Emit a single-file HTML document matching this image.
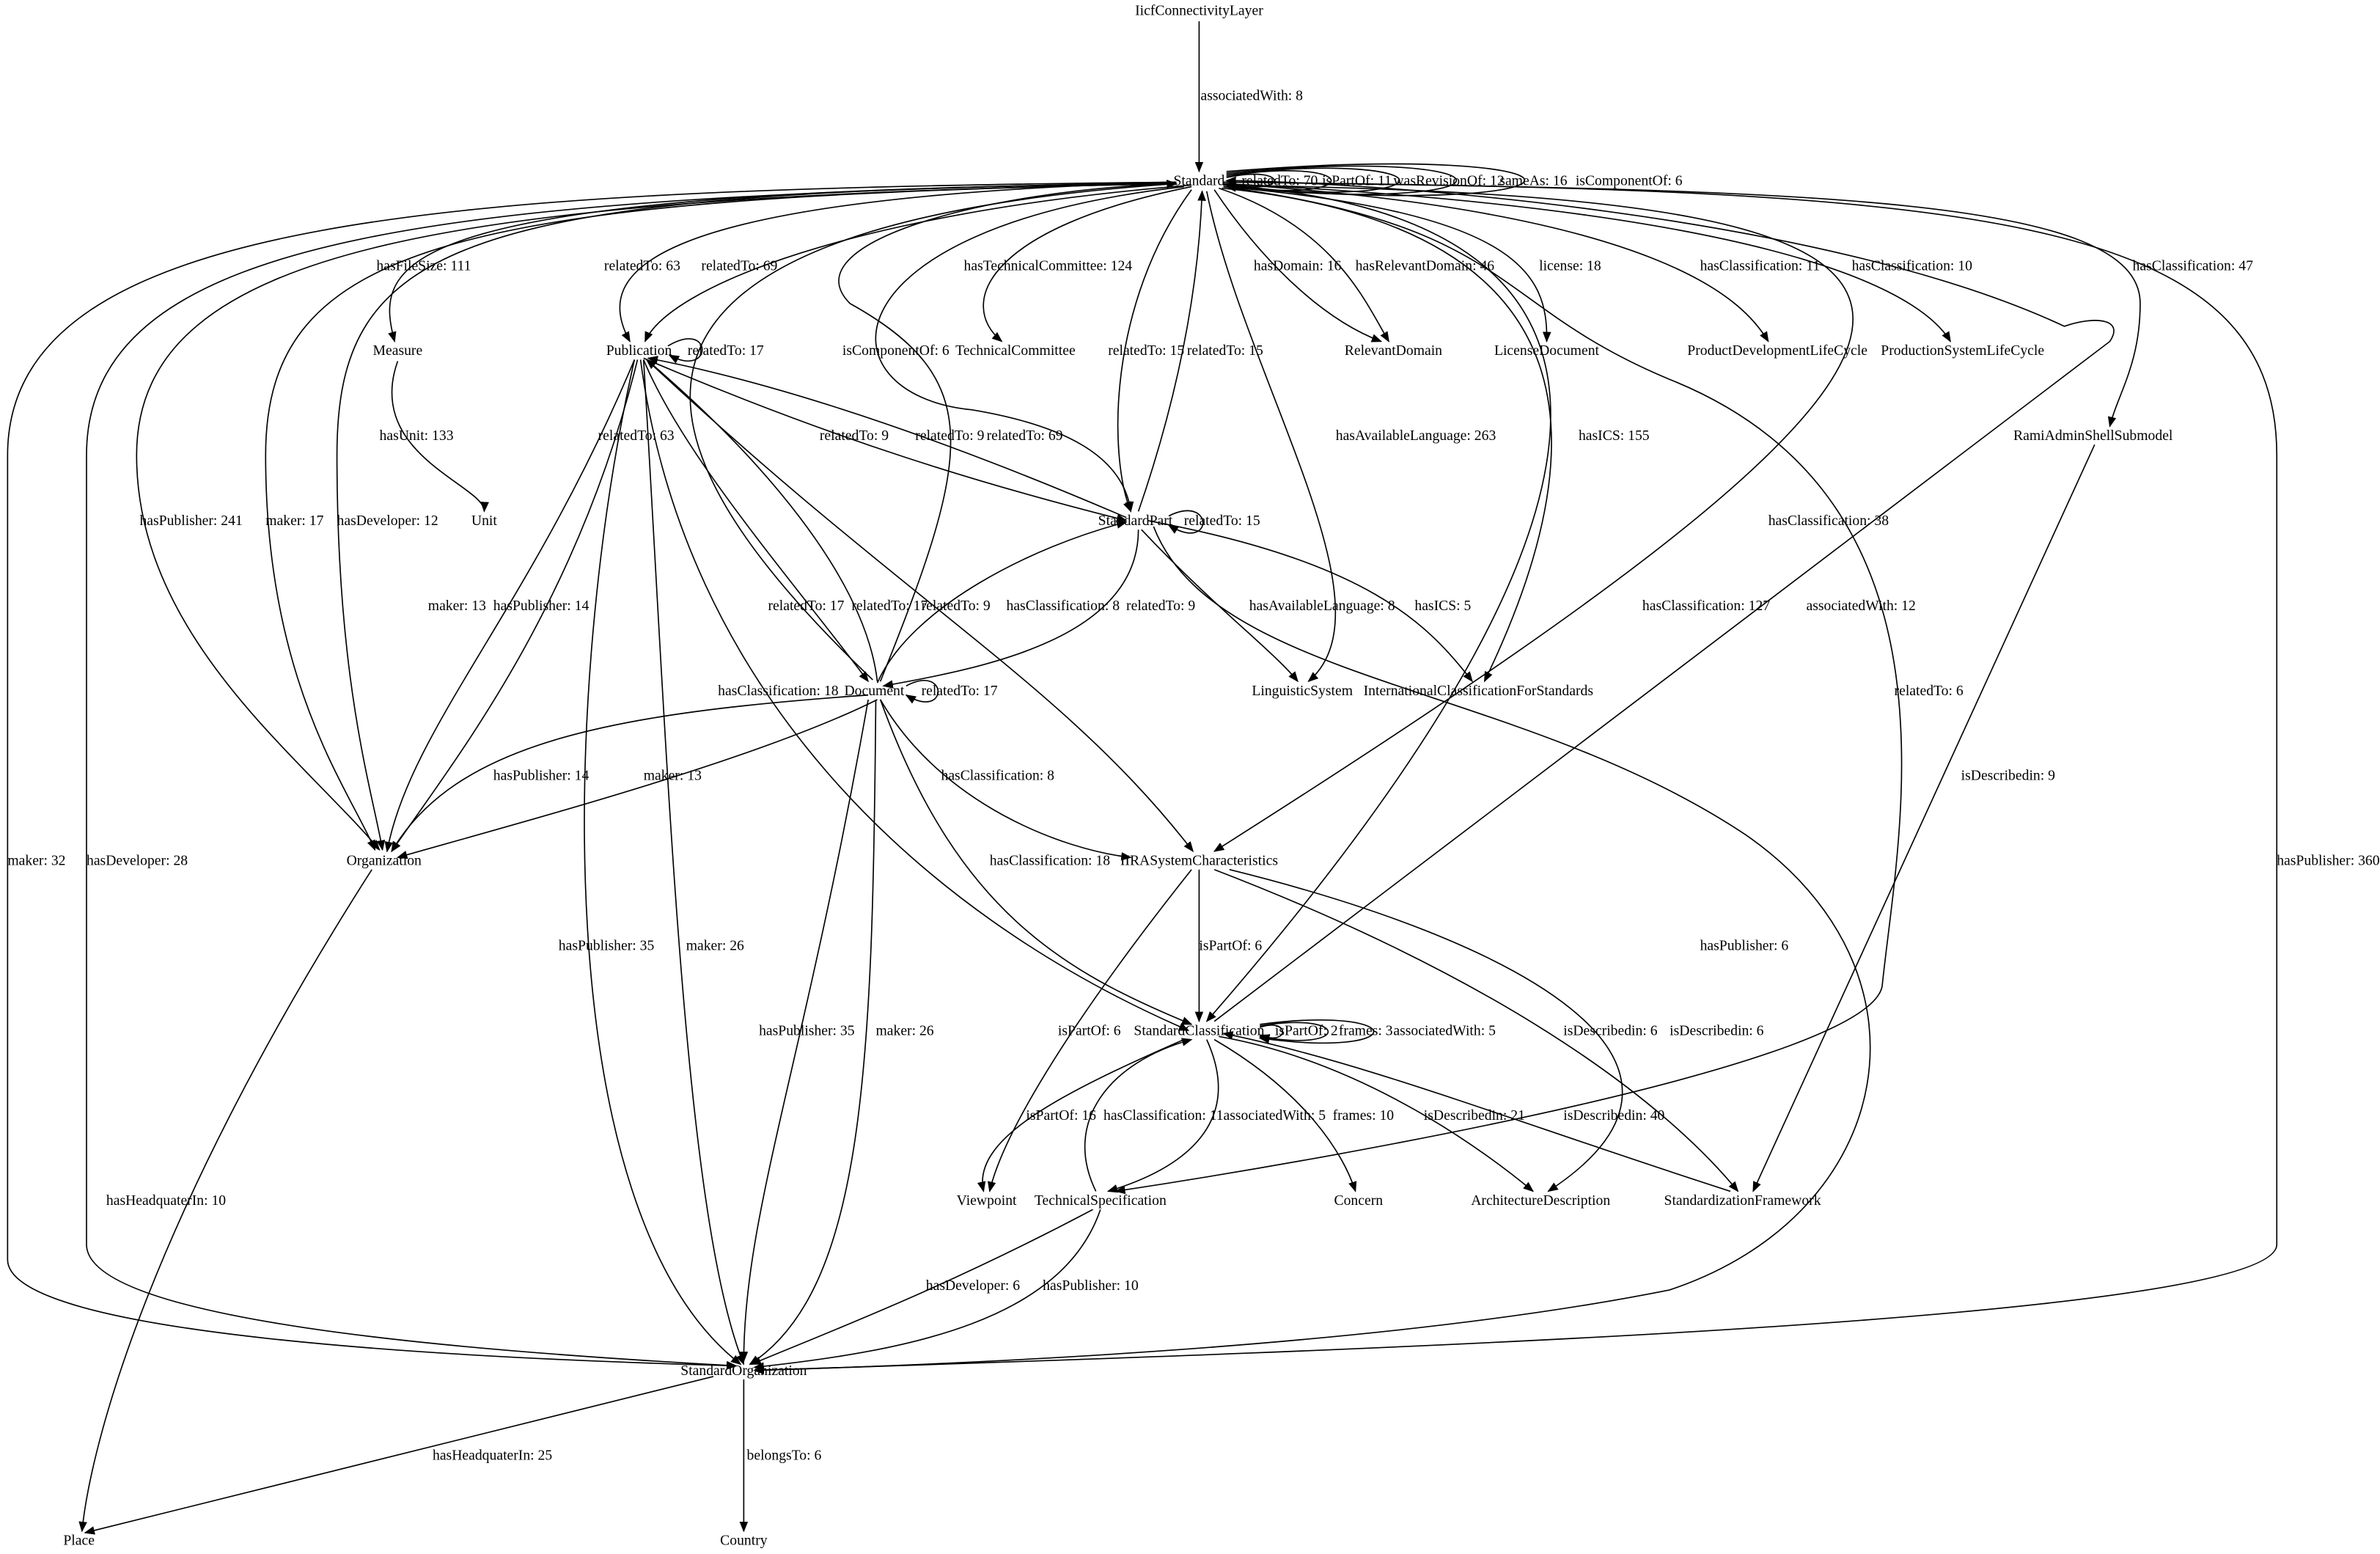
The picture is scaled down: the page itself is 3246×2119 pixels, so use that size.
<!DOCTYPE html>
<html><head><meta charset="utf-8"><style>
html,body{margin:0;padding:0;background:#fff;}
svg{display:block;}
text{font-family:"Liberation Serif",serif;font-size:9.5px;fill:#000;}
.n{text-anchor:middle;}
path{fill:none;stroke:#000;stroke-width:0.8;}
</style></head><body>
<svg width="3246" height="2119" viewBox="0 0 1568 1024" preserveAspectRatio="none" xmlns="http://www.w3.org/2000/svg">
<defs><marker id="a" viewBox="0 0 10 10" refX="9" refY="5" markerWidth="7" markerHeight="7" orient="auto" markerUnits="userSpaceOnUse"><path d="M0,1 L10,5 L0,9 z" style="fill:#000;stroke:none"/></marker></defs>
<g marker-end="url(#a)">
<path d="M790,14 L790,113"/>
<path d="M808,117 C850,108 850,130 808,121"/>
<path d="M808,116 C900,102 900,136 808,122"/>
<path d="M808,115 C960,98 960,140 808,122"/>
<path d="M808,114 C1010,95 1010,143 808,123"/>
<path d="M808,113 C1070,92 1070,146 808,123"/>
<path d="M775,121 C300,130 90,160 90,300 C90,420 200,500 250,560"/>
<path d="M775,121 C300,130 175,160 175,300 C175,450 230,520 247,560"/>
<path d="M775,121 C300,125 222,160 222,300 C222,450 245,520 252,560"/>
<path d="M775,120 C300,125 5,140 5,300 L5,830 C5,880 300,895 485,900"/>
<path d="M775,120 C300,130 57,150 57,300 L57,820 C57,870 300,890 485,900"/>
<path d="M806,120 C1300,125 1500,140 1500,300 L1500,820 C1500,870 900,890 497,903"/>
<path d="M775,121 C260,125 245,170 260,225"/>
<path d="M262,238 C240,300 320,320 319,337"/>
<path d="M775,120 C420,130 390,180 415,225"/>
<path d="M785,122 C560,140 440,190 425,225"/>
<path d="M440,228 C470,210 470,250 441,234"/>
<path d="M785,123 C650,150 630,200 660,225"/>
<path d="M780,123 C540,150 540,260 640,270 C700,280 740,300 745,337"/>
<path d="M575,448 C420,300 350,150 775,121"/>
<path d="M785,125 C730,200 730,300 745,337"/>
<path d="M750,337 C780,250 790,180 792,126"/>
<path d="M800,125 C830,170 870,210 910,225"/>
<path d="M803,124 C880,150 900,200 915,225"/>
<path d="M806,123 C1000,140 1020,180 1019,225"/>
<path d="M806,121 C1100,140 1150,200 1165,225"/>
<path d="M806,121 C1200,140 1270,200 1285,225"/>
<path d="M806,120 C1200,125 1410,130 1410,200 C1410,240 1395,260 1390,281"/>
<path d="M795,126 C820,250 920,400 862,449"/>
<path d="M805,124 C1060,150 1050,300 978,449"/>
<path d="M806,122 C1070,140 1120,300 795,673"/>
<path d="M806,122 C1350,130 1370,200 800,561"/>
<path d="M800,673 L1390,225 C1400,210 1380,208 1360,215 C1200,140 900,120 808,119"/>
<path d="M806,123 C1000,150 980,200 1100,250 C1300,330 1250,550 1240,650 C1230,700 900,760 735,785"/>
<path d="M760,347 C800,450 1000,450 1150,550 C1280,640 1250,800 1100,850 C900,890 600,900 497,903"/>
<path d="M1380,293 L1155,785"/>
<path d="M424,236 C550,290 650,320 742,343"/>
<path d="M742,341 C600,280 500,250 427,236"/>
<path d="M580,449 C640,300 650,250 560,200 C520,160 650,125 775,121"/>
<path d="M418,237 C350,400 270,480 255,561"/>
<path d="M420,237 C380,400 300,500 258,561"/>
<path d="M424,237 C450,300 520,380 572,449"/>
<path d="M578,449 C570,380 500,300 426,237"/>
<path d="M426,237 C600,400 700,450 786,561"/>
<path d="M422,237 C450,450 600,600 783,679"/>
<path d="M418,237 C370,450 360,800 488,899"/>
<path d="M424,237 C440,500 450,800 490,899"/>
<path d="M770,340 C800,325 800,365 770,346"/>
<path d="M750,349 C750,420 650,440 582,452"/>
<path d="M578,450 C600,400 680,360 742,344"/>
<path d="M752,349 C800,400 840,430 855,449"/>
<path d="M756,343 C900,370 940,410 970,449"/>
<path d="M597,452 C625,437 625,475 597,458"/>
<path d="M572,458 C400,470 300,490 258,561"/>
<path d="M578,461 C500,500 350,540 262,565"/>
<path d="M580,461 C620,530 700,560 745,565"/>
<path d="M580,461 C630,600 700,640 785,675"/>
<path d="M572,461 C530,700 490,800 490,897"/>
<path d="M577,461 C575,700 570,850 494,899"/>
<path d="M245,573 C100,800 60,950 54,1009"/>
<path d="M790,573 L790,673"/>
<path d="M785,573 C700,680 660,750 652,785"/>
<path d="M800,573 C1000,650 1100,730 1145,785"/>
<path d="M810,573 C1000,620 1150,700 1020,785"/>
<path d="M830,677 C850,670 850,690 830,682"/>
<path d="M830,676 C890,666 890,694 830,683"/>
<path d="M830,675 C930,662 930,698 830,684"/>
<path d="M780,685 C700,720 640,750 648,785"/>
<path d="M722,785 C700,740 730,700 785,685"/>
<path d="M795,685 C820,740 780,770 730,785"/>
<path d="M800,685 C860,720 885,760 893,785"/>
<path d="M803,683 C900,700 980,760 1010,785"/>
<path d="M1140,785 C1000,740 900,700 806,681"/>
<path d="M720,797 C620,850 540,880 495,899"/>
<path d="M725,797 C700,870 600,890 497,901"/>
<path d="M470,907 L56,1010"/>
<path d="M490,909 L490,1009"/>
</g>
<g>
<text x="791" y="66">associatedWith: 8</text>
<text x="818" y="122">relatedTo: 70</text>
<text x="871" y="122">isPartOf: 11</text>
<text x="918" y="122">wasRevisionOf: 12</text>
<text x="988" y="122">sameAs: 16</text>
<text x="1038" y="122">isComponentOf: 6</text>
<text x="92" y="346">hasPublisher: 241</text>
<text x="175" y="346">maker: 17</text>
<text x="222" y="346">hasDeveloper: 12</text>
<text x="5" y="570">maker: 32</text>
<text x="57" y="570">hasDeveloper: 28</text>
<text x="1500" y="570">hasPublisher: 360</text>
<text x="248" y="178">hasFileSize: 111</text>
<text x="250" y="290">hasUnit: 133</text>
<text x="398" y="178">relatedTo: 63</text>
<text x="462" y="178">relatedTo: 69</text>
<text x="453" y="234">relatedTo: 17</text>
<text x="635" y="178">hasTechnicalCommittee: 124</text>
<text x="555" y="234">isComponentOf: 6</text>
<text x="394" y="290">relatedTo: 63</text>
<text x="730" y="234">relatedTo: 15</text>
<text x="782" y="234">relatedTo: 15</text>
<text x="826" y="178">hasDomain: 16</text>
<text x="893" y="178">hasRelevantDomain: 46</text>
<text x="1014" y="178">license: 18</text>
<text x="1120" y="178">hasClassification: 11</text>
<text x="1220" y="178">hasClassification: 10</text>
<text x="1405" y="178">hasClassification: 47</text>
<text x="880" y="290">hasAvailableLanguage: 263</text>
<text x="1040" y="290">hasICS: 155</text>
<text x="1082" y="402">hasClassification: 127</text>
<text x="1165" y="346">hasClassification: 38</text>
<text x="1190" y="402">associatedWith: 12</text>
<text x="1248" y="458">relatedTo: 6</text>
<text x="1120" y="626">hasPublisher: 6</text>
<text x="1292" y="514">isDescribedin: 9</text>
<text x="540" y="290">relatedTo: 9</text>
<text x="603" y="290">relatedTo: 9</text>
<text x="650" y="290">relatedTo: 69</text>
<text x="282" y="402">maker: 13</text>
<text x="325" y="402">hasPublisher: 14</text>
<text x="506" y="402">relatedTo: 17</text>
<text x="561" y="402">relatedTo: 17</text>
<text x="663" y="402">hasClassification: 8</text>
<text x="473" y="458">hasClassification: 18</text>
<text x="368" y="626">hasPublisher: 35</text>
<text x="452" y="626">maker: 26</text>
<text x="780" y="346">relatedTo: 15</text>
<text x="742" y="402">relatedTo: 9</text>
<text x="607" y="402">relatedTo: 9</text>
<text x="823" y="402">hasAvailableLanguage: 8</text>
<text x="932" y="402">hasICS: 5</text>
<text x="607" y="458">relatedTo: 17</text>
<text x="325" y="514">hasPublisher: 14</text>
<text x="424" y="514">maker: 13</text>
<text x="620" y="514">hasClassification: 8</text>
<text x="652" y="570">hasClassification: 18</text>
<text x="500" y="682">hasPublisher: 35</text>
<text x="577" y="682">maker: 26</text>
<text x="70" y="794">hasHeadquaterIn: 10</text>
<text x="790" y="626">isPartOf: 6</text>
<text x="697" y="682">isPartOf: 6</text>
<text x="1030" y="682">isDescribedin: 6</text>
<text x="1100" y="682">isDescribedin: 6</text>
<text x="840" y="682">isPartOf: 2</text>
<text x="882" y="682">frames: 3</text>
<text x="918" y="682">associatedWith: 5</text>
<text x="676" y="738">isPartOf: 16</text>
<text x="727" y="738">hasClassification: 11</text>
<text x="806" y="738">associatedWith: 5</text>
<text x="878" y="738">frames: 10</text>
<text x="938" y="738">isDescribedin: 21</text>
<text x="1030" y="738">isDescribedin: 40</text>
<text x="610" y="850">hasDeveloper: 6</text>
<text x="687" y="850">hasPublisher: 10</text>
<text x="285" y="962">hasHeadquaterIn: 25</text>
<text x="492" y="962">belongsTo: 6</text>
</g>
<g class="n">
<text class="n" x="790" y="10">IicfConnectivityLayer</text>
<text class="n" x="790" y="122">Standard</text>
<text class="n" x="262" y="234">Measure</text>
<text class="n" x="421" y="234">Publication</text>
<text class="n" x="669" y="234">TechnicalCommittee</text>
<text class="n" x="918" y="234">RelevantDomain</text>
<text class="n" x="1019" y="234">LicenseDocument</text>
<text class="n" x="1171" y="234">ProductDevelopmentLifeCycle</text>
<text class="n" x="1293" y="234">ProductionSystemLifeCycle</text>
<text class="n" x="1379" y="290">RamiAdminShellSubmodel</text>
<text class="n" x="319" y="346">Unit</text>
<text class="n" x="748" y="346">StandardPart</text>
<text class="n" x="576" y="458">Document</text>
<text class="n" x="858" y="458">LinguisticSystem</text>
<text class="n" x="974" y="458">InternationalClassificationForStandards</text>
<text class="n" x="253" y="570">Organization</text>
<text class="n" x="790" y="570">IIRASystemCharacteristics</text>
<text class="n" x="790" y="682">StandardClassification</text>
<text class="n" x="650" y="794">Viewpoint</text>
<text class="n" x="725" y="794">TechnicalSpecification</text>
<text class="n" x="895" y="794">Concern</text>
<text class="n" x="1015" y="794">ArchitectureDescription</text>
<text class="n" x="1148" y="794">StandardizationFramework</text>
<text class="n" x="490" y="906">StandardOrganization</text>
<text class="n" x="52" y="1018">Place</text>
<text class="n" x="490" y="1018">Country</text>
</g>
</svg>
</body></html>
